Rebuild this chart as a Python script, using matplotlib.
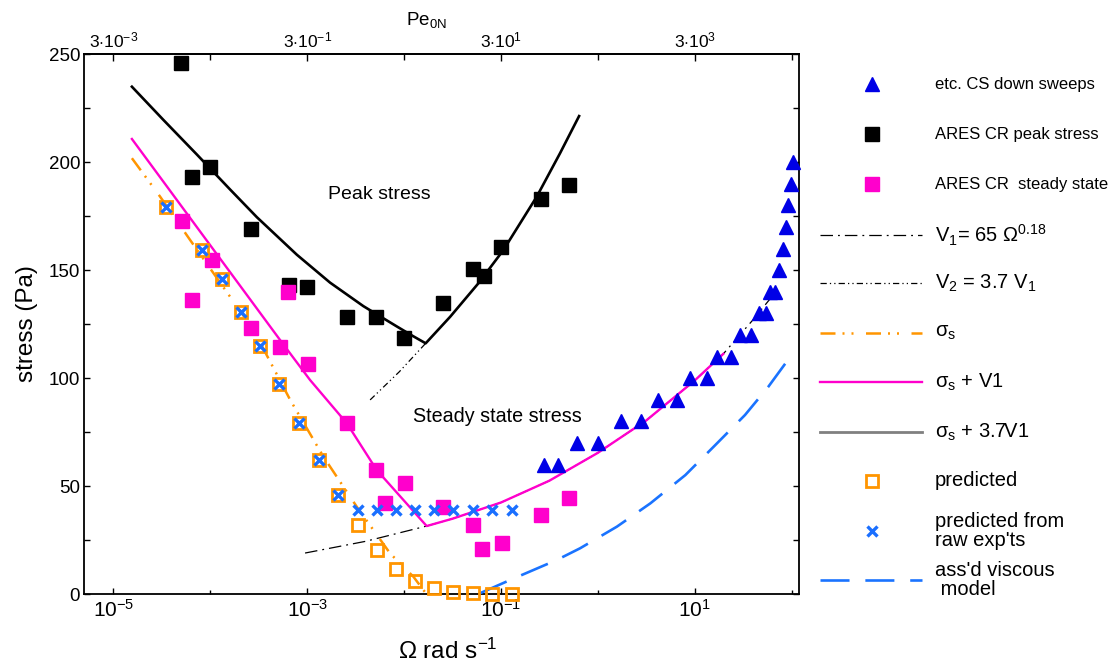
import matplotlib
matplotlib.use('Agg')
import matplotlib.pyplot as plt
from matplotlib.ticker import FixedLocator, FixedFormatter, NullFormatter

plt.rcParams['font.family'] = ['Liberation Sans', 'DejaVu Sans']
plt.rcParams['mathtext.fontset'] = 'custom'
plt.rcParams['mathtext.rm'] = 'Liberation Sans'
plt.rcParams['mathtext.it'] = 'Liberation Sans:italic'
plt.rcParams['mathtext.bf'] = 'Liberation Sans:bold'

# --- data (omega in rad/s, stress in Pa) ---
peak_w = [5.0e-5, 6.5e-5, 1.0e-4, 2.6e-4, 6.5e-4, 1.0e-3, 2.6e-3, 5.1e-3, 1.0e-2,
          2.5e-2, 5.1e-2, 6.6e-2, 0.10, 0.26, 0.50]
peak_s = [246.0, 193.2, 197.8, 169.1, 143.2, 142.3, 128.4, 128.4, 118.7,
          134.9, 150.6, 147.4, 160.8, 183.0, 189.5]

steady_w = [5.1e-5, 6.4e-5, 1.03e-4, 2.6e-4, 5.25e-4, 6.35e-4, 1.02e-3, 2.56e-3, 5.1e-3,
            6.4e-3, 1.02e-2, 2.55e-2, 5.1e-2, 6.3e-2, 0.102, 0.256, 0.508]
steady_s = [172.8, 136.3, 154.8, 123.3, 114.5, 140.1, 106.6, 79.4, 57.5,
            42.4, 51.4, 40.6, 32.1, 20.8, 23.6, 36.7, 44.4]

pred_w = [3.48e-5, 8.28e-5, 1.32e-4, 2.08e-4, 3.27e-4, 5.13e-4, 8.18e-4, 1.33e-3, 2.08e-3,
          3.33e-3, 5.22e-3, 8.26e-3, 1.30e-2, 2.04e-2, 3.20e-2, 5.14e-2, 8.09e-2, 0.130]
pred_s = [179.4, 159.4, 146.0, 130.8, 115.0, 97.4, 79.4, 62.2, 46.0,
          32.1, 20.5, 11.9, 6.2, 2.9, 1.2, 0.6, 0.0, 0.0]
raw_s = [179.4, 159.4, 146.0, 130.8, 115.0, 97.4, 79.4, 62.2, 46.0,
         39.0, 39.0, 39.0, 39.0, 39.0, 39.0, 39.0, 39.0, 39.0]

cs_w = [0.279, 0.389, 0.605, 1.0, 1.73, 2.79, 4.15, 6.52, 8.93, 13.5, 16.9, 23.7,
        29.6, 38.1, 46.1, 54.5, 59.8, 67.5, 74.1, 82.0, 87.5, 92.5, 97.9, 104.0]
cs_s = [60, 60, 70, 70, 80, 80, 90, 90, 100, 100, 110, 110,
        120, 120, 130, 130, 140, 140, 150, 160, 170, 180, 190, 200]

# fitted curves, sampled from the figure
peakfit_w = [1.55e-5, 3.28e-5, 7.26e-5, 1.60e-4, 3.02e-4, 7.82e-4, 1.72e-3, 3.80e-3, 8.41e-3,
             1.24e-2, 1.67e-2, 2.99e-2, 5.85e-2, 0.106, 0.234, 0.407, 0.64]
peakfit_s = [235.0, 219.6, 203.6, 187.4, 174.6, 157.2, 144.3, 133.4, 124.0,
             119.5, 116.2, 128.5, 144.0, 159.4, 184.1, 204.2, 221.4]

sigv1_w = [1.55e-5, 5.25e-4, 1.07e-3, 2.56e-3, 5.22e-3, 1.71e-2, 3.16e-2, 0.10, 0.316,
           1.0, 3.16, 10.0, 19.7]
sigv1_s = [210.8, 117.7, 99.2, 79.2, 57.5, 31.6, 35.0, 42.5, 52.6,
           65.5, 80.5, 99.0, 111.3]

sig_w = [1.55e-5, 3.03e-5, 6.19e-5, 1.08e-4, 2.79e-4, 6.67e-4, 1.47e-3, 3.25e-3, 7.18e-3,
         1.25e-2, 1.58e-2, 1.71e-2]
sig_s = [201.9, 184.1, 164.0, 148.6, 122.4, 90.0, 63.7, 40.5, 18.9, 8.1, 2.0, 0.0]

v1_w = [9.5e-4, 3.98e-3, 1.71e-2, 3.16e-2, 0.10, 0.316, 1.0, 3.16, 10.0, 19.7, 39.8, 72.4]
v1_s = [19.1, 24.5, 31.6, 35.0, 42.5, 52.6, 65.5, 80.5, 99.0, 111.3, 127.0, 141.3]

v2_w = [4.46e-3, 8.91e-3, 1.67e-2]
v2_s = [90.0, 103.0, 116.2]

visc_w = [6.08e-2, 0.124, 0.377, 0.655, 1.57, 3.48, 8.0, 16.3, 33.0, 57.5, 88.9]
visc_s = [0.5, 6.6, 15.9, 21.3, 31.3, 42.1, 55.2, 69.1, 83.0, 96.1, 107.7]

pe_per_omega = 300.0

x_major = [1e-5, 1e-3, 1e-1, 1e1]
x_major_lbl = [r'$10^{-5}$', r'$10^{-3}$', r'$10^{-1}$', r'$10^{1}$']
x_minor = [1e-4, 1e-2, 1e0, 1e2]
pe_major = [3e-3, 3e-1, 3e1, 3e3]
pe_major_lbl = [r'$3{\cdot}10^{-3}$', r'$3{\cdot}10^{-1}$', r'$3{\cdot}10^{1}$', r'$3{\cdot}10^{3}$']
pe_minor = [3e-2, 3e0, 3e2, 3e4]

# colours
orange = '#ff9500'
pink = '#ff00cc'
triblue = '#0000e6'
xblue = '#1a6fff'
vblue = '#1a73ff'

ls_v1 = (0, (10, 4, 1.5, 4))
ls_v2 = (0, (5, 2.5, 1, 2.5, 1, 2.5))
ls_sig = (0, (6, 2.8, 0.8, 2.8, 0.8, 5))
ls_visc = (0, (11, 6))

W, H = 1118, 667
fig = plt.figure(figsize=(W / 100, H / 100), dpi=100)
ax = fig.add_axes([84.3 / W, 1 - 594.3 / H, (799.3 - 84.3) / W, (594.3 - 54.3) / H])
ax.set_xscale('log')
ax.set_xlim(5.0e-6, 120)
ax.set_ylim(0, 250)

# curves
ax.plot(v2_w, v2_s, color='k', lw=0.9, ls=ls_v2, zorder=2)
ax.plot(v1_w, v1_s, color='k', lw=0.9, ls=ls_v1, zorder=2)
ax.plot(peakfit_w, peakfit_s, color='k', lw=1.9, zorder=3)
ax.plot(sig_w, sig_s, color=orange, lw=1.8, ls=ls_sig, zorder=3)
ax.plot(sigv1_w, sigv1_s, color=pink, lw=1.7, zorder=3)
ax.plot(visc_w, visc_s, color=vblue, lw=1.9, ls=ls_visc, zorder=3, clip_on=False)

# markers
ax.plot(peak_w, peak_s, 's', color='k', ms=9.5, ls='none', zorder=4)
ax.plot(steady_w, steady_s, 's', color=pink, ms=9.5, ls='none', zorder=4)
ax.plot(pred_w, pred_s, 's', mfc='none', mec=orange, mew=2, ms=9, ls='none',
        zorder=5, clip_on=False)
ax.plot(pred_w, raw_s, 'x', color=xblue, mew=2.4, ms=6.5, ls='none', zorder=6, clip_on=False)
ax.plot(cs_w, cs_s, '^', color=triblue, ms=10, ls='none', zorder=5, clip_on=False)

ax.text(5.5e-3, 185, 'Peak stress', fontsize=14, ha='center', va='center')
ax.text(9.2e-2, 82.5, 'Steady state stress', fontsize=14.2, ha='center', va='center')

# axes / ticks
ax.xaxis.set_major_locator(FixedLocator(x_major))
ax.xaxis.set_major_formatter(FixedFormatter(x_major_lbl))
ax.xaxis.set_minor_locator(FixedLocator(x_minor))
ax.xaxis.set_minor_formatter(NullFormatter())
ax.tick_params(axis='x', which='major', direction='in', length=4.5, width=1,
               labelsize=15, pad=3, top=False)
ax.tick_params(axis='x', which='minor', direction='in', length=3, width=1, top=False)
ax.set_yticks(range(0, 251, 50))
ax.set_yticks(range(25, 250, 50), minor=True)
ax.tick_params(axis='y', which='both', direction='in', length=4.5, width=1,
               right=True, labelsize=13.5, pad=3)
for sp in ax.spines.values():
    sp.set_linewidth(1.3)

sec = ax.secondary_xaxis('top', functions=(lambda w: w * pe_per_omega,
                                           lambda p: p / pe_per_omega))
sec.xaxis.set_major_locator(FixedLocator(pe_major))
sec.xaxis.set_major_formatter(FixedFormatter(pe_major_lbl))
sec.xaxis.set_minor_locator(FixedLocator(pe_minor))
sec.xaxis.set_minor_formatter(NullFormatter())
sec.tick_params(which='major', direction='in', length=5, width=1, labelsize=12.5, pad=3)
sec.tick_params(which='minor', direction='in', length=4, width=1)
sec.spines['top'].set_linewidth(1.3)

fig.text(426 / W, 1 - 20 / H, r'Pe$_{\mathrm{0N}}$', fontsize=13.5, ha='center', va='center')
fig.text(27 / W, 1 - 324 / H, 'stress (Pa)', fontsize=17.5, rotation=90,
         ha='center', va='center')
fig.text(448 / W, 1 - 651 / H, r'Ω rad s$^{\mathrm{-1}}$', fontsize=17.5,
         ha='center', va='center')

# legend, drawn in figure pixel space
lax = fig.add_axes([0, 0, 1, 1])
lax.set_xlim(0, W)
lax.set_ylim(H, 0)
lax.axis('off')
rows = [84, 134, 184, 235, 283, 333, 382, 432, 481, 531, 580]
x0, x1, xm, xt = 820, 922, 872, 935
lax.plot([xm], [rows[0]], '^', color=triblue, ms=10)
lax.plot([xm], [rows[1]], 's', color='k', ms=9.5)
lax.plot([xm], [rows[2]], 's', color=pink, ms=9.5)
lax.plot([x0, x1], [rows[3]] * 2, color='k', lw=0.9, ls=ls_v1)
lax.plot([x0, x1], [rows[4]] * 2, color='k', lw=0.9, ls=ls_v2)
lax.plot([x0, x1], [rows[5]] * 2, color=orange, lw=1.8, ls=ls_sig)
lax.plot([x0, x1], [rows[6]] * 2, color=pink, lw=1.7)
lax.plot([x0, x1], [rows[7]] * 2, color='#808080', lw=2.0)
lax.plot([xm], [rows[8]], 's', mfc='none', mec=orange, mew=2, ms=9)
lax.plot([xm], [rows[9]], 'x', color=xblue, mew=2.4, ms=6.5)
lax.plot([x0, x1], [rows[10]] * 2, color=vblue, lw=1.9, ls=ls_visc)

labels = ['etc. CS down sweeps', 'ARES CR peak stress', 'ARES CR  steady state',
          r'V$_{1}$= 65 Ω$^{0.18}$', r'V$_{2}$ = 3.7 V$_{1}$', r'σ$_{\mathrm{s}}$',
          r'σ$_{\mathrm{s}}$ + V1', r'σ$_{\mathrm{s}}$ + 3.7V1', 'predicted',
          "predicted from\nraw exp'ts", "ass'd viscous\n model"]
sizes = [12, 12, 12, 14.5, 14.5, 14.5, 14.5, 14.5, 14.5, 14.5, 14.5]
for y, lbl, fs in zip(rows, labels, sizes):
    lax.text(xt, y, lbl, fontsize=fs, ha='left', va='center', linespacing=1.0)

fig.savefig('out.png', dpi=100)
